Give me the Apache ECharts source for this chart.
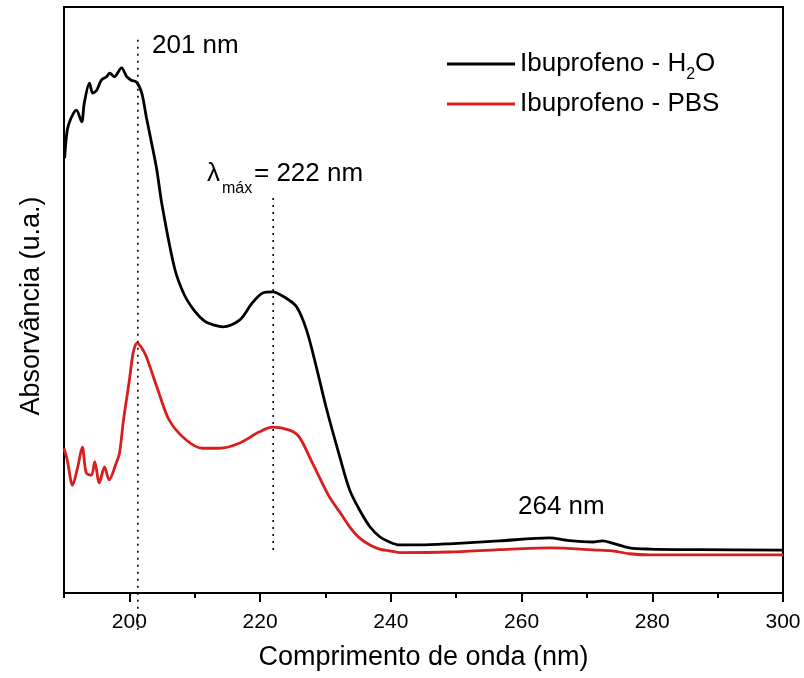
<!DOCTYPE html>
<html>
<head>
<meta charset="utf-8">
<script src="https://cdn.jsdelivr.net/npm/echarts@6/dist/echarts.min.js"></script>
<style>html,body{margin:0;padding:0;background:#fff;}#c{width:804px;height:678px;}</style>
</head>
<body>
<div id="c"></div>
<script>
// Wavelengths (nm) and absorbance (a.u., 0-100 scale)
var waveH2O = [190.1,190.5,191.1,191.9,192.7,193.1,193.9,194.4,195.0,195.7,196.5,197.0,197.7,198.8,199.6,200.3,201.1,201.9,202.6,203.4,204.2,205.0,206.9,208.4,210.0,211.5,213.0,214.3,216.9,218.8,220.4,221.9,224.0,225.6,227.1,228.6,230.1,232.2,233.7,235.2,236.8,238.3,239.8,241.3,244.4,249.0,256.6,264.3,266.9,270.9,272.4,273.9,276.5,279.6,287.2,300];
var absH2O  = [74.2,79.0,81.1,82.4,80.4,83.6,87.0,85.3,85.8,87.5,88.1,88.7,88.1,89.6,88.1,87.5,87.2,85.3,81.2,76.8,72.2,66.2,55.5,50.9,48.1,46.4,45.7,45.4,46.6,49.5,51.2,51.4,50.3,48.8,44.9,38.6,31.7,23.2,17.6,14.2,11.3,9.6,8.7,8.2,8.2,8.4,8.9,9.4,9.0,8.7,8.9,8.5,7.7,7.5,7.4,7.3];
var wavePBS = [190.0,190.5,191.3,192.1,192.8,193.4,194.2,194.7,195.4,196.2,196.9,198.0,198.5,199.1,200.0,200.6,201.2,201.9,202.6,204.2,206.1,208.7,211.2,213.8,216.9,219.9,221.9,224.5,226.0,228.0,230.6,232.2,233.7,235.2,236.8,238.3,239.8,241.3,249.0,256.6,264.3,271.9,273.9,276.5,279.6,300];
var absPBS  = [24.7,22.7,18.4,21.5,24.9,20.5,20.1,22.4,18.8,21.5,19.3,22.2,23.9,29.5,36.3,41.1,42.7,41.8,40.3,35.2,29.5,26.1,24.7,24.7,25.6,27.5,28.3,27.8,26.6,22.2,16.4,13.8,11.3,9.4,8.2,7.5,7.2,6.9,7.0,7.4,7.7,7.3,7.2,6.7,6.5,6.5];
var peak201 = [[201.3, 94.4], [201.3, -6.8]];
var peak222 = [[222.0, 67.4], [222.0, 6.8]];
var majorTicks = [200, 220, 240, 260, 280, 300];
var minorTicks = [190, 210, 230, 250, 270, 290];
var seriesNames = ['Ibuprofeno - H2O', 'Ibuprofeno - PBS'];

function zip(a, b) { return a.map(function (v, i) { return [v, b[i]]; }); }

var FONT = 'Liberation Sans, Arial, sans-serif';
var chart = echarts.init(document.getElementById('c'), null, {renderer: 'canvas'});
chart.setOption({
  backgroundColor: '#fff',
  animation: false,
  grid: {left: 64, right: 21, top: 7, bottom: 85, show: true, borderColor: '#000', borderWidth: 2, backgroundColor: 'transparent'},
  legend: {
    orient: 'vertical', left: 442, top: 46, itemWidth: 68, itemHeight: 3, itemGap: 8,
    icon: 'rect',
    data: seriesNames,
    textStyle: {
      fontFamily: FONT, fontSize: 26, color: '#000',
      rich: {
        a: {fontFamily: FONT, fontSize: 26, color: '#000'},
        s: {fontFamily: FONT, fontSize: 16, color: '#000', padding: [22, 0, 0, 0]}
      }
    },
    formatter: function (n) {
      if (n === seriesNames[0]) return '{a|Ibuprofeno - H}{s|2}{a|O}';
      return '{a|' + n + '}';
    }
  },
  xAxis: [{
    type: 'value', min: 190, max: 300, position: 'bottom',
    name: 'Comprimento de onda (nm)', nameLocation: 'middle', nameGap: 51,
    nameTextStyle: {fontFamily: FONT, fontSize: 27, color: '#000'},
    axisLine: {show: true, onZero: false, lineStyle: {color: '#000', width: 2}},
    axisTick: {show: true, length: 9, lineStyle: {color: '#000', width: 2}, customValues: majorTicks},
    axisLabel: {fontFamily: FONT, fontSize: 21, color: '#000', margin: 19, customValues: majorTicks},
    splitLine: {show: false}
  }, {
    type: 'value', min: 190, max: 300, position: 'bottom',
    axisLine: {show: false},
    axisTick: {show: true, length: 5, lineStyle: {color: '#000', width: 2}, customValues: minorTicks},
    axisLabel: {show: false},
    splitLine: {show: false}
  }],
  yAxis: {
    type: 'value', min: 0, max: 100,
    name: 'Absorvância (u.a.)', nameLocation: 'middle', nameGap: 19,
    nameTextStyle: {fontFamily: FONT, fontSize: 27, color: '#000', padding: [0, 12, 0, 0]},
    axisLine: {show: true, lineStyle: {color: '#000', width: 2}},
    axisTick: {show: false}, axisLabel: {show: false}, splitLine: {show: false}
  },
  series: [
    {name: seriesNames[0], type: 'line', data: zip(waveH2O, absH2O), symbol: 'none', smooth: 0.3,
     color: '#000', lineStyle: {color: '#000', width: 2.8}},
    {name: seriesNames[1], type: 'line', data: zip(wavePBS, absPBS), symbol: 'none', smooth: 0.3,
     color: '#d81e1e', lineStyle: {color: '#d81e1e', width: 2.8}},
    {name: 'p201', type: 'line', data: peak201, symbol: 'none', clip: false, silent: true,
     lineStyle: {color: '#000', width: 1.6, type: [2, 5]}},
    {name: 'p222', type: 'line', data: peak222, symbol: 'none', clip: false, silent: true,
     lineStyle: {color: '#000', width: 1.6, type: [2, 5]}}
  ],
  graphic: [
    {type: 'text', left: 152, top: 33, style: {text: '201 nm', font: '26px ' + FONT, fill: '#000'}},
    {type: 'text', left: 207, top: 161, style: {text: 'λ', font: '26px ' + FONT, fill: '#000'}},
    {type: 'text', left: 222, top: 181, style: {text: 'máx', font: '16px ' + FONT, fill: '#000'}},
    {type: 'text', left: 254, top: 161, style: {text: '= 222 nm', font: '26px ' + FONT, fill: '#000'}},
    {type: 'text', left: 518, top: 494, style: {text: '264 nm', font: '26px ' + FONT, fill: '#000'}}
  ]
});
</script>
</body>
</html>
